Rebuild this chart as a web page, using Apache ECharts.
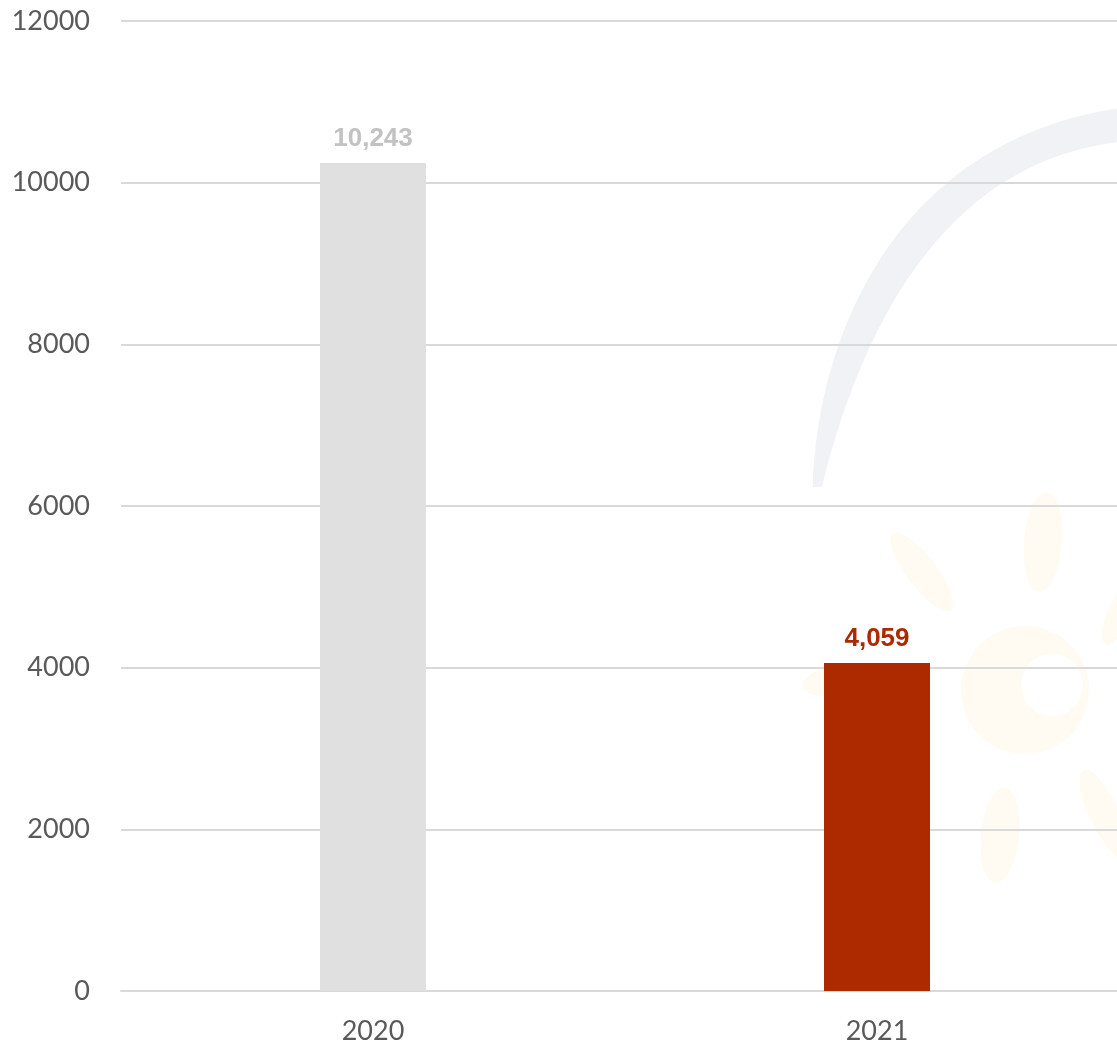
<!DOCTYPE html>
<html>
<head>
<meta charset="utf-8">
<script src="https://cdn.jsdelivr.net/npm/echarts@6/dist/echarts.min.js"></script>
<style>
  html, body { margin: 0; padding: 0; background: #ffffff; }
  #chart { width: 1117px; height: 1046px; }
</style>
</head>
<body>
<div id="chart"></div>
<script>
// Yearly totals
const years = ['2020', '2021'];
const totals = [10243, 4059];
const barColors = ['#e0e0e0', '#ad2900'];
const labelColors = ['#c2c2c2', '#ad2900'];

// Tapering arc band used in the faint backdrop
echarts.graphic.registerShape('arcBand', echarts.graphic.extendShape({
  shape: { x0: 0, y0: 0 },
  buildPath: function (ctx) {
    ctx.moveTo(813, 487);
    ctx.bezierCurveTo(818, 330, 900, 140, 1120, 108);
    ctx.lineTo(1120, 142);
    ctx.bezierCurveTo(960, 160, 868, 300, 822, 487);
    ctx.closePath();
  }
}));

const chart = echarts.init(document.getElementById('chart'), null, { renderer: 'canvas' });

// Faint decorative backdrop: grey arc and a pale sun motif
const faintGrey = '#f1f2f5';
const faintSun = '#fffbf3';
const sunRays = [
  { x: 922, y: 572, rx: 15, ry: 48, rot: 0.65 },
  { x: 1043, y: 542, rx: 19, ry: 50, rot: -0.08 },
  { x: 1000, y: 835, rx: 19, ry: 48, rot: -0.1 },
  { x: 1105, y: 815, rx: 15, ry: 50, rot: 0.45 },
  { x: 1118, y: 615, rx: 11, ry: 32, rot: -0.4 },
  { x: 842, y: 680, rx: 40, ry: 16, rot: 0.15 }
];
const graphics = [
  {
    type: 'arcBand', z: -10, silent: true,
    shape: { x0: 0, y0: 0 },
    style: { fill: faintGrey }
  },
  {
    type: 'circle', z: -10, silent: true,
    shape: { cx: 1025, cy: 690, r: 64 },
    style: { fill: faintSun }
  },
  {
    type: 'circle', z: -9, silent: true,
    shape: { cx: 1052, cy: 685, r: 31 },
    style: { fill: '#ffffff' }
  }
];
sunRays.forEach(function (r) {
  graphics.push({
    type: 'ellipse', z: -10, silent: true,
    x: r.x, y: r.y, rotation: r.rot,
    shape: { cx: 0, cy: 0, rx: r.rx, ry: r.ry },
    style: { fill: faintSun }
  });
});

const axisFont = 'Lato, "Open Sans", sans-serif';

chart.setOption({
  animation: false,
  backgroundColor: '#ffffff',
  graphic: graphics,
  // the plot area runs slightly past the right edge of the canvas
  grid: { left: 121, right: -12, top: 21, bottom: 55, containLabel: false, outerBoundsMode: 'none' },
  xAxis: {
    type: 'category',
    data: years,
    axisLine: { show: true, lineStyle: { color: '#d9d9d9', width: 2 } },
    axisTick: { show: false },
    axisLabel: { color: '#595959', fontFamily: axisFont, fontSize: 27, margin: 27 }
  },
  yAxis: {
    type: 'value',
    min: 0, max: 12000, interval: 2000,
    axisLine: { show: false },
    axisTick: { show: false },
    splitLine: { lineStyle: { color: '#d9d9d9', width: 2 } },
    axisLabel: {
      color: '#595959', fontFamily: axisFont, fontSize: 27, margin: 31,
      formatter: function (v) { return String(v); }
    }
  },
  series: [{
    type: 'bar',
    barWidth: 106,
    data: totals.map(function (v, i) {
      return {
        value: v,
        itemStyle: { color: barColors[i] },
        label: { color: labelColors[i] }
      };
    }),
    label: {
      show: true,
      position: 'top',
      distance: 11,
      fontFamily: '"Liberation Sans", Arial, sans-serif',
      fontWeight: 'bold',
      fontSize: 26,
      formatter: function (p) { return p.value.toLocaleString('en-US'); }
    }
  }]
});
</script>
</body>
</html>
